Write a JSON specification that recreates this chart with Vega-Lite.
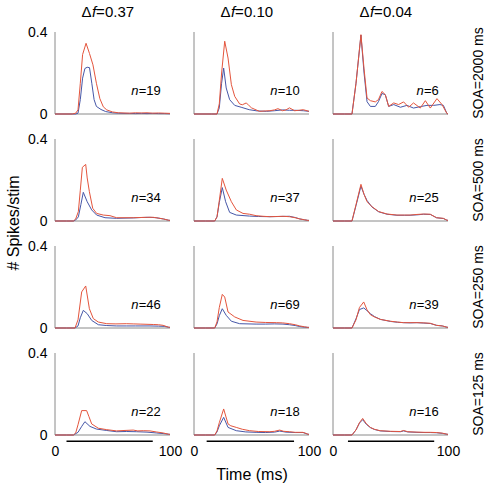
{
  "$schema": "https://vega.github.io/schema/vega-lite/v6.json",
  "background": "white",
  "padding": {"left": 5, "top": 5, "right": 0, "bottom": 2},
  "bounds": "flush",
  "data": {"values": [
    {"kind": "psth", "soa": "2000", "df": "0.37", "s": "red", "t": [0,15,18,20,22,24,27,30,33,36,39,42,45,50,55,60,65,70,75,80,85,90,95,100], "v": [0,0,0.004,0.02,0.15,0.29,0.345,0.295,0.24,0.15,0.075,0.035,0.02,0.01,0.006,0.005,0.004,0.006,0.005,0.006,0.004,0.005,0.004,0.003]},
    {"kind": "psth", "soa": "2000", "df": "0.37", "s": "blue", "t": [0,15,18,20,22,24,26,28,30,32,34,36,40,44,50,55,60,65,70,75,80,85,90,95,100], "v": [0,0,0,0.004,0.07,0.175,0.222,0.228,0.226,0.15,0.07,0.037,0.022,0.012,0.006,0.004,0.003,0.003,0.002,0.003,0.002,0.003,0.002,0.002,0.001]},
    {"kind": "psth", "soa": "2000", "df": "0.10", "s": "red", "t": [0,15,20,22,24,26.7,29.6,32.5,35.4,39.7,42,45.5,48,50,54,57,62,66,70,73,77,80,83,87.5,91,95,100], "v": [0,0,0,0.05,0.2,0.355,0.273,0.143,0.086,0.049,0.045,0.054,0.04,0.03,0.02,0.013,0.015,0.016,0.02,0.026,0.016,0.02,0.03,0.016,0.018,0.021,0.013]},
    {"kind": "psth", "soa": "2000", "df": "0.10", "s": "blue", "t": [0,15,20,22,24,25.8,28,31,35.4,41,48,55,63,70,77,83,89,95,100], "v": [0,0,0,0.03,0.15,0.224,0.127,0.07,0.042,0.033,0.021,0.015,0.013,0.016,0.02,0.018,0.018,0.016,0.013]},
    {"kind": "psth", "soa": "2000", "df": "0.04", "s": "red", "t": [0,10,16.5,20,24.3,27,29.6,32.5,36.8,39.5,42.6,45.5,48.4,52.8,57,61.4,65.8,70,75.9,80.3,84.6,90.4,94.8,99,100], "v": [0,0,0,0.15,0.387,0.22,0.078,0.065,0.059,0.07,0.11,0.094,0.037,0.054,0.046,0.059,0.033,0.054,0.029,0.065,0.029,0.075,0.046,0.003,0]},
    {"kind": "psth", "soa": "2000", "df": "0.04", "s": "blue", "t": [0,10,16.5,20,24.3,27,29.6,32.5,36.8,39.5,42.6,45.5,48.4,52.8,58.6,64.3,70,76,81.7,87.5,93,96,99,100], "v": [0,0,0,0.15,0.385,0.2,0.06,0.037,0.037,0.06,0.1,0.094,0.037,0.046,0.033,0.042,0.029,0.036,0.042,0.042,0.046,0.042,0.003,0]},
    {"kind": "psth", "soa": "500", "df": "0.37", "s": "red", "t": [0,10,16,18,20.3,22,23.8,26.7,28,29.9,32.8,36.2,42,47.8,53.6,60,68,74,79.7,85.5,90,94.2,98.6,100], "v": [0,0,0,0.01,0.046,0.15,0.262,0.276,0.21,0.143,0.062,0.037,0.029,0.026,0.016,0.016,0.016,0.017,0.018,0.018,0.014,0.01,0.004,0.003]},
    {"kind": "psth", "soa": "500", "df": "0.37", "s": "blue", "t": [0,10,16,18,20.3,22.5,24.6,28,31.9,36.2,43.5,53.6,60,68,75,82.6,88,94.2,98.6,100], "v": [0,0,0,0.005,0.02,0.08,0.14,0.094,0.054,0.029,0.016,0.013,0.014,0.015,0.017,0.018,0.016,0.01,0.004,0.003]},
    {"kind": "psth", "soa": "500", "df": "0.10", "s": "red", "t": [0,10,18,20,22,24.6,28,32.5,36.8,42.6,48.4,54,60,66,72,77.4,83,88,92,96,99,100], "v": [0,0,0,0.02,0.1,0.208,0.151,0.094,0.054,0.037,0.033,0.026,0.023,0.021,0.022,0.023,0.021,0.016,0.01,0.006,0.003,0.003]},
    {"kind": "psth", "soa": "500", "df": "0.10", "s": "blue", "t": [0,10,18,20,22,24.6,27.5,31,36.8,48.4,56,66,74,83,88,92,96,99,100], "v": [0,0,0,0.02,0.09,0.163,0.094,0.042,0.029,0.024,0.022,0.021,0.022,0.023,0.017,0.01,0.006,0.003,0.003]},
    {"kind": "psth", "soa": "500", "df": "0.04", "s": "red", "t": [0,10,16.5,20,24.3,27,29.6,33.9,39.7,47,55.6,62,67,73,78.8,84.6,90,96,99,100], "v": [0,0,0,0.08,0.179,0.13,0.094,0.07,0.046,0.034,0.029,0.029,0.029,0.032,0.034,0.033,0.016,0.013,0.004,0.003]},
    {"kind": "psth", "soa": "500", "df": "0.04", "s": "blue", "t": [0,10,16.5,20,24.3,27,29.6,33.9,39.7,47,55.6,62,67,73,78.8,84.6,90,96,99,100], "v": [0,0,0,0.075,0.17,0.13,0.1,0.068,0.045,0.033,0.028,0.028,0.028,0.03,0.033,0.032,0.016,0.012,0.004,0.003]},
    {"kind": "psth", "soa": "250", "df": "0.37", "s": "red", "t": [0,10,17.4,20,23.2,26.7,29.9,33.3,37.7,45,53,62,68,74,80,85.5,90,94,98.6,100], "v": [0,0,0,0.04,0.176,0.205,0.094,0.046,0.029,0.021,0.02,0.021,0.02,0.019,0.018,0.017,0.016,0.013,0.004,0.003]},
    {"kind": "psth", "soa": "250", "df": "0.37", "s": "blue", "t": [0,10,17.4,20,22,24.6,28,31.9,37.7,45,53.6,62,70,82.6,90,95,98.6,100], "v": [0,0,0,0.01,0.05,0.086,0.07,0.037,0.016,0.012,0.01,0.01,0.01,0.01,0.009,0.008,0.004,0.003]},
    {"kind": "psth", "soa": "250", "df": "0.10", "s": "red", "t": [0,10,18,20,22,24.6,26.7,29.6,35.4,42.6,54,62,71.6,77,83,88,92,96,99,100], "v": [0,0,0,0.03,0.1,0.164,0.151,0.078,0.054,0.037,0.029,0.027,0.026,0.025,0.021,0.016,0.01,0.006,0.003,0.003]},
    {"kind": "psth", "soa": "250", "df": "0.10", "s": "blue", "t": [0,10,18,20,22,24.6,28,32.5,39.7,54,62,70,77.4,83,88,92,96,99,100], "v": [0,0,0,0.02,0.06,0.094,0.062,0.033,0.021,0.019,0.019,0.02,0.019,0.016,0.012,0.007,0.004,0.003,0.003]},
    {"kind": "psth", "soa": "250", "df": "0.04", "s": "red", "t": [0,10,16.5,20,23,26.7,29.5,32.5,36,41.2,50,56,61.4,67,73,79,84.6,90,95,99,100], "v": [0,0,0,0.04,0.1,0.127,0.09,0.065,0.054,0.042,0.033,0.029,0.026,0.026,0.026,0.025,0.023,0.013,0.01,0.004,0.003]},
    {"kind": "psth", "soa": "250", "df": "0.04", "s": "blue", "t": [0,10,16.5,20,23,26.7,29.5,32.5,36,41.2,50,56,61.4,67,73,79,84.6,90,95,99,100], "v": [0,0,0,0.045,0.09,0.098,0.085,0.07,0.056,0.042,0.032,0.028,0.026,0.025,0.026,0.024,0.022,0.013,0.01,0.004,0.003]},
    {"kind": "psth", "soa": "125", "df": "0.37", "s": "red", "t": [0,10,16,18,20,23.2,27.5,29.5,31.9,37.7,45,53.6,60,68,72,76.8,82.6,88,94,98.6,100], "v": [0,0,0,0.01,0.05,0.119,0.119,0.09,0.054,0.033,0.026,0.02,0.022,0.024,0.02,0.021,0.02,0.015,0.01,0.004,0.003]},
    {"kind": "psth", "soa": "125", "df": "0.37", "s": "blue", "t": [0,10,16,20,23,26,30.4,36,45,53.6,62,71,80,88,94,98.6,100], "v": [0,0,0,0.013,0.04,0.065,0.042,0.029,0.022,0.016,0.017,0.016,0.014,0.01,0.007,0.004,0.003]},
    {"kind": "psth", "soa": "125", "df": "0.10", "s": "red", "t": [0,10,18,20,22,25.8,29.6,32,36.8,42,48.4,56,66,70,74.5,78,83,88,94.8,99,100], "v": [0,0,0,0.02,0.06,0.127,0.054,0.045,0.037,0.028,0.021,0.017,0.016,0.018,0.024,0.018,0.016,0.013,0.013,0.004,0.003]},
    {"kind": "psth", "soa": "125", "df": "0.10", "s": "blue", "t": [0,10,18,20,22,25.8,29.6,36.8,45,54,62,70,74.5,80,88,94.8,99,100], "v": [0,0,0,0.015,0.045,0.086,0.037,0.021,0.015,0.013,0.012,0.014,0.019,0.014,0.012,0.012,0.004,0.003]},
    {"kind": "psth", "soa": "125", "df": "0.04", "s": "red", "t": [0,10,16.5,20,23,25.8,29,32.5,36,41,50,58.6,61.4,65,73,80,84.6,90,95,99,100], "v": [0,0,0,0.025,0.06,0.081,0.055,0.037,0.028,0.021,0.018,0.017,0.022,0.016,0.014,0.013,0.013,0.012,0.009,0.004,0.003]},
    {"kind": "psth", "soa": "125", "df": "0.04", "s": "blue", "t": [0,10,16.5,20,23,25.8,29,32.5,36,41,50,58.6,61.4,65,73,80,84.6,90,95,99,100], "v": [0,0,0,0.025,0.058,0.075,0.052,0.036,0.027,0.02,0.017,0.016,0.02,0.015,0.013,0.012,0.012,0.011,0.008,0.004,0.003]},
    {"kind": "label", "soa": "2000", "df": "0.37", "n": "19"},
    {"kind": "label", "soa": "2000", "df": "0.10", "n": "10"},
    {"kind": "label", "soa": "2000", "df": "0.04", "n": "6"},
    {"kind": "label", "soa": "500", "df": "0.37", "n": "34"},
    {"kind": "label", "soa": "500", "df": "0.10", "n": "37"},
    {"kind": "label", "soa": "500", "df": "0.04", "n": "25"},
    {"kind": "label", "soa": "250", "df": "0.37", "n": "46"},
    {"kind": "label", "soa": "250", "df": "0.10", "n": "69"},
    {"kind": "label", "soa": "250", "df": "0.04", "n": "39"},
    {"kind": "label", "soa": "125", "df": "0.37", "n": "22"},
    {"kind": "label", "soa": "125", "df": "0.10", "n": "18"},
    {"kind": "label", "soa": "125", "df": "0.04", "n": "16"},
    {"kind": "stim", "soa": "125", "df": "0.37", "t0": 10, "t1": 85},
    {"kind": "stim", "soa": "125", "df": "0.10", "t0": 11, "t1": 87},
    {"kind": "stim", "soa": "125", "df": "0.04", "t0": 13, "t1": 88}
  ]},
  "facet": {
    "row": {"field": "soa", "type": "ordinal", "sort": ["2000", "500", "250", "125"],
      "header": {"title": "# Spikes/stim", "titleOrient": "left", "titleAngle": -90, "titleFontSize": 16, "titleFontWeight": "normal", "titleFont": "Liberation Sans", "titleColor": "black", "titlePadding": -21, "titleAlign": "center", "titleBaseline": "bottom",
        "labelOrient": "right", "labelAngle": -90, "labelExpr": "'SOA=' + datum.value + ' ms'", "labelFontSize": 14, "labelFont": "Liberation Sans", "labelColor": "black", "labelPadding": 17, "labelAlign": "center", "labelBaseline": "middle"}},
    "column": {"field": "df", "type": "ordinal", "sort": ["0.37", "0.10", "0.04"],
      "header": {"title": "Time (ms)", "titleOrient": "bottom", "titleFontSize": 16, "titleFontWeight": "normal", "titleFont": "Liberation Sans", "titleColor": "black", "titlePadding": -1, "labels": false}}
  },
  "spacing": {"row": 25, "column": 24},
  "spec": {
    "width": 115,
    "height": 82,
    "layer": [
      {
        "transform": [{"filter": "datum.kind == 'label'"}],
        "mark": {"type": "rule", "color": "#8a8a8a", "strokeWidth": 1},
        "encoding": {"x": {"datum": 0}, "y": {"datum": 0}, "y2": {"datum": 0.4}}
      },
      {
        "transform": [{"filter": "datum.kind == 'label'"}],
        "mark": {"type": "rule", "color": "#8a8a8a", "strokeWidth": 1},
        "encoding": {"x": {"datum": 0}, "x2": {"datum": 100}, "y": {"datum": 0}}
      },
      {
        "transform": [{"filter": "datum.kind == 'psth' && datum.s == 'blue'"}, {"flatten": ["t", "v"]}],
        "mark": {"type": "line", "color": "#4657a8", "strokeWidth": 1},
        "encoding": {
          "x": {"field": "t", "type": "quantitative", "scale": {"domain": [0, 100], "nice": false},
            "axis": {"values": [0, 100], "format": "d", "title": null, "labelFlush": false, "domain": false, "ticks": false, "grid": false, "labelFontSize": 14, "labelPadding": 9, "labelColor": "black"}},
          "y": {"field": "v", "type": "quantitative", "scale": {"domain": [0, 0.4], "nice": false},
            "axis": {"values": [0, 0.4], "format": "~g", "title": null, "domain": false, "ticks": false, "grid": false, "labelFontSize": 14, "labelPadding": 8, "labelColor": "black"}}
        }
      },
      {
        "transform": [{"filter": "datum.kind == 'psth' && datum.s == 'red'"}, {"flatten": ["t", "v"]}],
        "mark": {"type": "line", "color": "#e4553d", "strokeWidth": 1},
        "encoding": {
          "x": {"field": "t", "type": "quantitative"},
          "y": {"field": "v", "type": "quantitative"}
        }
      },
      {
        "transform": [{"filter": "datum.kind == 'stim'"}],
        "mark": {"type": "rule", "color": "black", "strokeWidth": 1.5},
        "encoding": {"x": {"field": "t0", "type": "quantitative"}, "x2": {"field": "t1"}, "y": {"datum": -0.03}}
      },
      {
        "transform": [{"filter": "datum.kind == 'label'"}],
        "mark": {"type": "text", "align": "right", "baseline": "alphabetic", "fontSize": 13, "dy": -19, "color": "black"},
        "encoding": {"x": {"datum": 92}, "y": {"datum": 0}, "text": {"field": "n"}}
      },
      {
        "transform": [{"filter": "datum.kind == 'label' && length(datum.n) == 2"}],
        "mark": {"type": "text", "align": "right", "baseline": "alphabetic", "fontSize": 13, "dy": -19, "dx": -14.5, "color": "black"},
        "encoding": {"x": {"datum": 92}, "y": {"datum": 0}, "text": {"value": "="}}
      },
      {
        "transform": [{"filter": "datum.kind == 'label' && length(datum.n) == 1"}],
        "mark": {"type": "text", "align": "right", "baseline": "alphabetic", "fontSize": 13, "dy": -19, "dx": -7.2, "color": "black"},
        "encoding": {"x": {"datum": 92}, "y": {"datum": 0}, "text": {"value": "="}}
      },
      {
        "transform": [{"filter": "datum.kind == 'label' && length(datum.n) == 2"}],
        "mark": {"type": "text", "align": "right", "baseline": "alphabetic", "fontSize": 13, "fontStyle": "italic", "dy": -19, "dx": -22.3, "color": "black"},
        "encoding": {"x": {"datum": 92}, "y": {"datum": 0}, "text": {"value": "n"}}
      },
      {
        "transform": [{"filter": "datum.kind == 'label' && length(datum.n) == 1"}],
        "mark": {"type": "text", "align": "right", "baseline": "alphabetic", "fontSize": 13, "fontStyle": "italic", "dy": -19, "dx": -15, "color": "black"},
        "encoding": {"x": {"datum": 92}, "y": {"datum": 0}, "text": {"value": "n"}}
      },
      {
        "transform": [{"filter": "datum.kind == 'label' && datum.soa == '2000'"}],
        "mark": {"type": "text", "align": "left", "baseline": "alphabetic", "fontSize": 15, "dy": -15, "dx": -31, "color": "black"},
        "encoding": {"x": {"datum": 50}, "y": {"datum": 0.4}, "text": {"value": "Δ"}}
      },
      {
        "transform": [{"filter": "datum.kind == 'label' && datum.soa == '2000'"}],
        "mark": {"type": "text", "align": "left", "baseline": "alphabetic", "fontSize": 15, "fontStyle": "italic", "dy": -15, "dx": -20.6, "color": "black"},
        "encoding": {"x": {"datum": 50}, "y": {"datum": 0.4}, "text": {"value": "f"}}
      },
      {
        "transform": [{"filter": "datum.kind == 'label' && datum.soa == '2000'"}],
        "mark": {"type": "text", "align": "left", "baseline": "alphabetic", "fontSize": 15, "dy": -15, "dx": -16.4, "color": "black"},
        "encoding": {"x": {"datum": 50}, "y": {"datum": 0.4}, "text": {"value": "="}}
      },
      {
        "transform": [{"filter": "datum.kind == 'label' && datum.soa == '2000'"}],
        "mark": {"type": "text", "align": "left", "baseline": "alphabetic", "fontSize": 15, "dy": -15, "dx": -7.6, "color": "black"},
        "encoding": {"x": {"datum": 50}, "y": {"datum": 0.4}, "text": {"field": "df"}}
      }
    ]
  },
  "config": {
    "view": {"stroke": null},
    "font": "Liberation Sans",
    "text": {"font": "Liberation Sans"}
  }
}
